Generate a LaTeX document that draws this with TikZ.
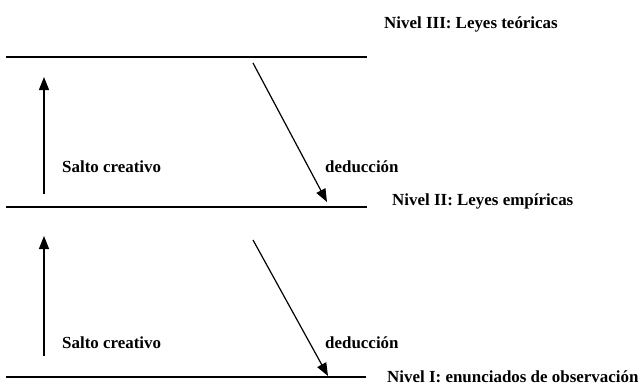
\documentclass[tikz,border=0pt]{standalone}
\usepackage{fontspec}
\setmainfont{Liberation Serif}
\usetikzlibrary{arrows.meta}
\tikzset{
  nivel/.style={line width=2.2bp},
  flecha/.style={line width=1.2bp,-{Triangle[length=13bp,width=10bp]}},
  rotulo/.style={anchor=base west,inner sep=0pt,font=\bfseries\fontsize{17}{20}\selectfont}
}
\begin{document}
\begin{tikzpicture}[x=1bp,y=-1bp]
  \useasboundingbox (0,0) rectangle (641,387);
  \draw[nivel] (6,57) -- (367,57);
  \draw[nivel] (6,207) -- (367,207);
  \draw[nivel] (6,377) -- (366,377);
  \draw
    (384,28) node[rotulo] (n3){Nivel III: Leyes teóricas}
    (392,205) node[rotulo] (n2){Nivel II: Leyes empíricas}
    (387,382) node[rotulo] (n1){Nivel I: enunciados de observación}
    (62,172) node[rotulo] (s2){Salto creativo}
    (62,348) node[rotulo] (s1){Salto creativo}
    (325,172) node[rotulo] (d2){deducción}
    (325,348) node[rotulo] (d1){deducción};
  \coordinate (a2) at (44,194);
  \coordinate (b2) at (44,77);
  \coordinate (a1) at (44,356);
  \coordinate (b1) at (44,236);
  \coordinate (c2) at (253,63);
  \coordinate (e2) at (327,202);
  \coordinate (c1) at (253,240);
  \coordinate (e1) at (328,376);
  \begin{scope}[flecha]
    \draw (a2) to (b2);
    \draw (a1) to (b1);
    \draw (c2) to (e2);
    \draw (c1) to (e1);
  \end{scope}
\end{tikzpicture}
\end{document}
